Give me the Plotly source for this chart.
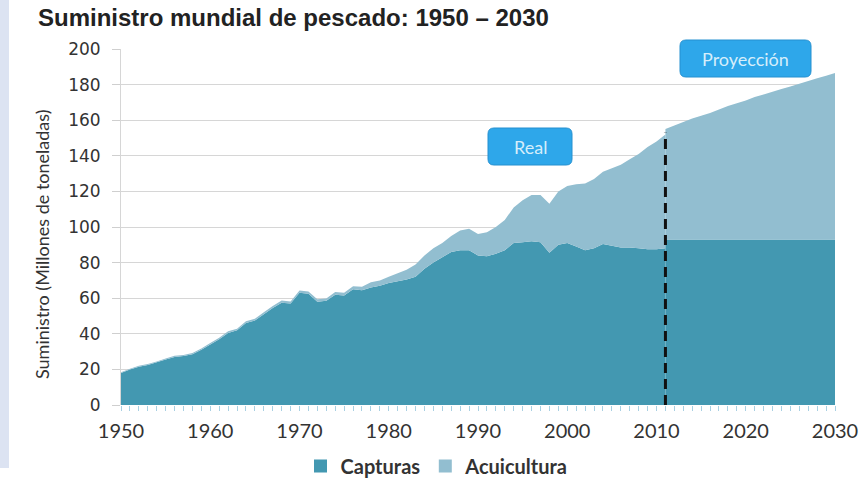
import plotly.graph_objects as go

# datos reales 1950-2011 (millones de toneladas)
years_real = list(range(1950, 2012))
capturas_real = [
    18.0, 20.0, 21.5, 22.5, 24.0, 25.5, 27.0, 27.5, 28.5, 31.0,
    34.0, 37.0, 40.5, 42.0, 46.0, 47.5, 51.0, 54.5, 57.5, 57.0,
    63.0, 62.5, 58.0, 58.5, 62.0, 61.5, 65.0, 64.5, 66.0, 67.0,
    68.5, 69.5, 70.5, 72.0, 76.5, 80.0, 83.0, 86.0, 87.0, 87.0,
    84.0, 83.5, 85.0, 87.0, 91.0, 91.5, 92.0, 91.5, 85.5, 90.0,
    91.0, 89.0, 87.0, 88.0, 90.5, 89.5, 88.5, 88.5, 88.0, 87.5,
    87.5, 88.0,
]
acuicultura_real = [
    0.4, 0.4, 0.5, 0.5, 0.5, 0.6, 0.6, 0.6, 0.7, 0.7,
    0.8, 0.8, 0.9, 0.9, 1.0, 1.0, 1.1, 1.1, 1.2, 1.2,
    1.3, 1.3, 1.4, 1.4, 1.5, 1.5, 1.7, 2.0, 3.0, 3.0,
    3.5, 4.5, 5.5, 7.0, 7.5, 8.0, 8.0, 9.0, 11.0, 12.0,
    12.0, 13.5, 15.0, 17.0, 20.0, 23.5, 26.0, 26.5, 27.5, 30.0,
    32.0, 35.0, 37.5, 39.0, 40.5, 43.5, 46.5, 49.5, 53.0, 57.5,
    60.5, 64.0,
]

# proyeccion 2011-2030
years_proj = list(range(2011, 2031))
capturas_proj = [93.0] * 20
acuicultura_proj = [
    62.0, 64.0, 66.0, 68.0, 69.5, 71.0, 73.0, 75.0, 76.5, 78.0,
    80.0, 81.5, 83.0, 84.5, 86.0, 87.5, 89.0, 90.5, 92.0, 93.5,
]

C_CAPT = "#4398b1"
C_ACUI = "#92bed0"

W, H = 865, 479
L, R, T, B = 121, 30, 49, 74
PW, PH = W - L - R, H - T - B


def px(x):
    return (x - L) / PW


def py(y):
    return (H - B - y) / PH


def rounded_box(x0, y0, x1, y1, r=6):
    # caja con esquinas redondeadas en coordenadas de papel
    rx, ry = r / PW, r / PH
    a, b, c, d = px(x0), px(x1), py(y1), py(y0)
    return (
        f"M{a + rx},{c} L{b - rx},{c} Q{b},{c} {b},{c + ry} "
        f"L{b},{d - ry} Q{b},{d} {b - rx},{d} L{a + rx},{d} "
        f"Q{a},{d} {a},{d - ry} L{a},{c + ry} Q{a},{c} {a + rx},{c} Z"
    )


fig = go.Figure()

fig.add_trace(go.Scatter(
    x=years_real, y=capturas_real, name="Capturas", stackgroup="real",
    mode="none", fillcolor=C_CAPT, showlegend=False,
))
fig.add_trace(go.Scatter(
    x=years_real, y=acuicultura_real, name="Acuicultura", stackgroup="real",
    mode="none", fillcolor=C_ACUI, showlegend=False,
))
fig.add_trace(go.Scatter(
    x=years_proj, y=capturas_proj, name="Capturas", stackgroup="proj",
    mode="none", fillcolor=C_CAPT, showlegend=False,
))
fig.add_trace(go.Scatter(
    x=years_proj, y=acuicultura_proj, name="Acuicultura", stackgroup="proj",
    mode="none", fillcolor=C_ACUI, showlegend=False,
))

# entradas de leyenda con cuadrados
for name, col in [("Capturas", C_CAPT), ("Acuicultura", C_ACUI)]:
    fig.add_trace(go.Scatter(
        x=[None], y=[None], mode="markers", name=name,
        marker=dict(symbol="square", size=13, color=col),
    ))

# linea discontinua real / proyeccion
fig.add_shape(
    type="line", xref="x", yref="y",
    x0=years_proj[0], x1=years_proj[0],
    y0=0, y1=capturas_proj[0] + acuicultura_proj[0] - 2,
    line=dict(color="#111111", width=3, dash="10px,6px"),
)

# franja azul a la izquierda
fig.add_shape(
    type="rect", xref="paper", yref="paper", layer="below",
    x0=px(0), x1=px(9), y0=py(468), y1=py(0),
    fillcolor="#dce3f2", line=dict(width=0),
)

for (x0, y0, x1, y1, txt) in [
    (488, 128, 572, 165, "Real"),
    (680, 40, 811, 77, "Proyección"),
]:
    fig.add_shape(
        type="path", xref="paper", yref="paper",
        path=rounded_box(x0, y0, x1, y1),
        fillcolor="#2ea7ea", line=dict(color="#2590d0", width=1),
    )
    fig.add_annotation(
        x=px((x0 + x1) / 2), y=py((y0 + y1) / 2), xref="paper", yref="paper",
        xanchor="center", yanchor="middle",
        text=txt, showarrow=False,
        font=dict(family="Lato", size=18, color="#d6eefb"),
    )

fig.add_annotation(
    x=px(42), y=py(244), xref="paper", yref="paper",
    xanchor="center", yanchor="middle",
    text="Suministro (Millones de toneladas)", textangle=-90,
    showarrow=False, font=dict(family="Lato", size=18, color="#333333"),
)

fig.update_layout(
    width=W,
    height=H,
    autosize=False,
    margin=dict(l=L, r=R, t=T, b=B, autoexpand=False),
    plot_bgcolor="white",
    paper_bgcolor="white",
    title=dict(
        text="<b>Suministro mundial de pescado: 1950 – 2030</b>",
        x=38 / W, xref="container", xanchor="left",
        y=1 - 18 / H, yref="container", yanchor="middle",
        font=dict(family="Liberation Sans", size=24, color="#222222"),
    ),
    xaxis=dict(
        range=[1950, 2030],
        dtick=10,
        showgrid=False,
        zeroline=False,
        ticks="outside",
        ticklen=5,
        tickcolor="#a9d0e2",
        minor=dict(dtick=1, ticks="outside", ticklen=5, tickcolor="#a9d0e2"),
        ticklabelstandoff=3,
        tickfont=dict(family="Lato", size=20, color="#333333"),
    ),
    yaxis=dict(
        range=[0, 200],
        dtick=20,
        showgrid=True,
        gridcolor="#d6d6d6",
        gridwidth=1,
        zeroline=False,
        showline=True,
        linecolor="#d6d6d6",
        ticks="outside",
        ticklen=8,
        tickcolor="#cfcfcf",
        ticklabelstandoff=8,
        tickfont=dict(family="DejaVu Sans", size=17, color="#333333"),
    ),
    legend=dict(
        orientation="h",
        traceorder="normal",
        x=px(437), xanchor="center",
        y=py(466), yanchor="middle",
        font=dict(family="Lato", size=20, color="#333333", weight="bold"),
        itemwidth=30,
    ),
)

fig.write_html(
    "out.html",
    config={"displayModeBar": False},
    post_script="document.body.style.margin='0';",
)
